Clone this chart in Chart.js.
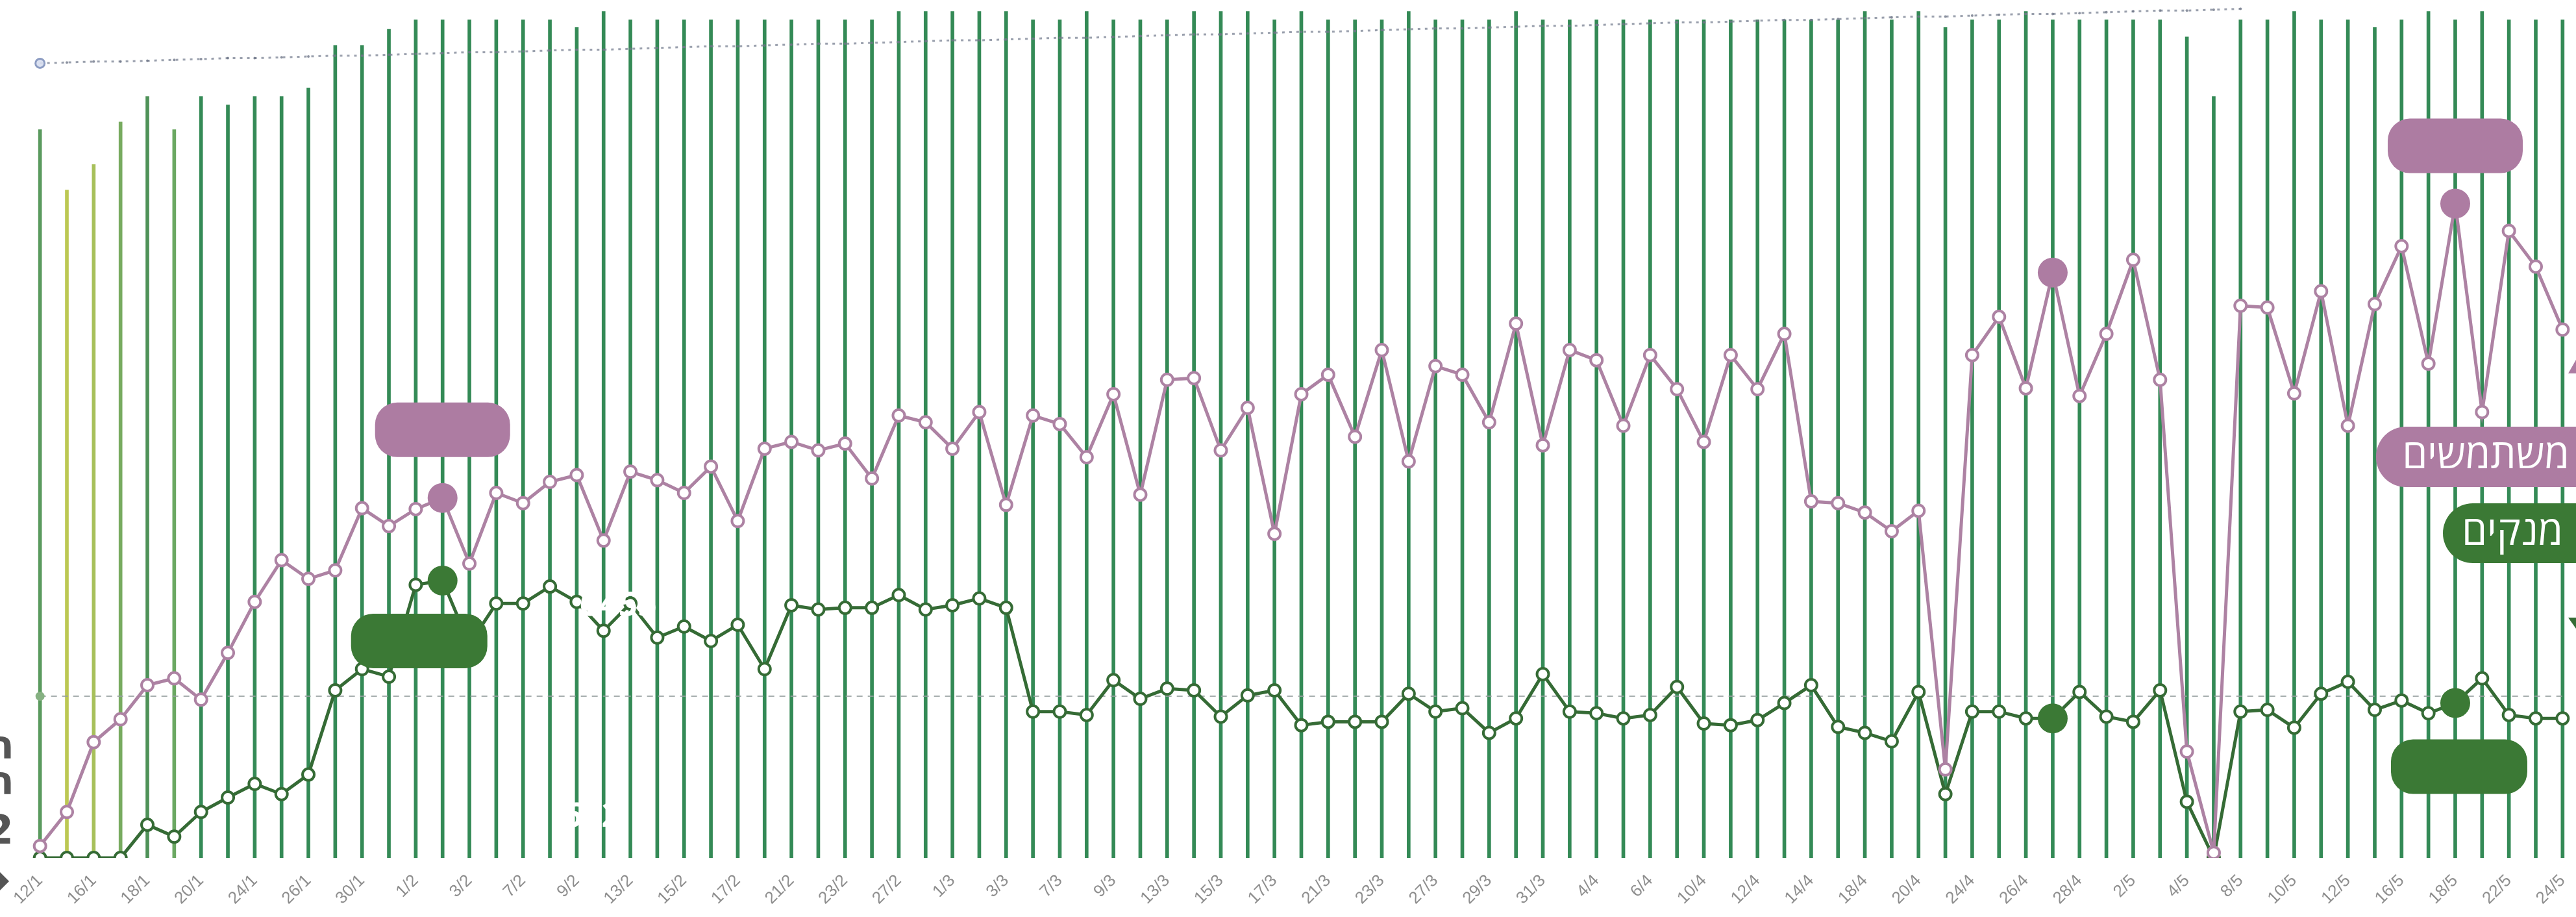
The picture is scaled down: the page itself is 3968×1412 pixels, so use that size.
<!DOCTYPE html>
<html>
<head>
<meta charset="utf-8">
<script src="https://cdn.jsdelivr.net/npm/chart.js@4.4.1/dist/chart.umd.min.js"></script>
<style>
html,body{margin:0;padding:0;background:#ffffff;overflow:hidden}
canvas{display:block}
</style>
</head>
<body>
<canvas id="c" width="3968" height="1412" style="width:3968px;height:1412px"></canvas>
<script>
// ---------- data ----------
const dates = ['12/1','13/1','16/1','17/1','18/1','19/1','20/1','23/1','24/1','25/1','26/1','27/1','30/1','31/1','1/2','2/2','3/2','6/2','7/2','8/2','9/2','10/2','13/2','14/2','15/2','16/2','17/2','20/2','21/2','22/2','23/2','24/2','27/2','28/2','1/3','2/3','3/3','6/3','7/3','8/3','9/3','10/3','13/3','14/3','15/3','16/3','17/3','20/3','21/3','22/3','23/3','24/3','27/3','28/3','29/3','30/3','31/3','3/4','4/4','5/4','6/4','7/4','10/4','11/4','12/4','13/4','14/4','17/4','18/4','19/4','20/4','21/4','24/4','25/4','26/4','27/4','28/4','1/5','2/5','3/5','4/5','5/5','8/5','9/5','10/5','11/5','12/5','15/5','16/5','17/5','18/5','19/5','22/5','23/5','24/5'];

const seriesNames = ['משתמשים', 'מנקים'];

const userValues = [14,54,136,163,203,211,186,241,301,350,
  328,338,411,390,410,423,346,429,417,442,
  450,373,454,444,429,460,396,481,489,479,
  487,446,520,512,481,524,415,520,510,471,
  545,427,562,564,479,529,381,545,568,495,
  597,466,578,568,512,628,485,597,585,508,
  591,551,489,591,551,616,419,417,406,384,
  408,104,591,636,552,688,543,616,703,562,
  125,6,649,647,546,666,508,651,719,581,
  769,524,737,695,621];

const cleanerValues = [0,0,0,0,39,25,54,71,87,75,
  98,197,222,213,321,326,251,299,299,319,
  301,267,299,259,272,255,274,222,297,292,
  294,294,309,292,297,305,294,172,172,168,
  209,187,199,197,166,191,197,156,160,160,
  160,193,172,176,147,164,216,172,170,164,
  168,201,158,156,162,182,203,154,147,137,
  195,75,172,172,164,164,195,166,160,197,
  66,0,172,174,153,193,207,174,185,170,
  182,211,168,164,164];

const barValues = [85.6,78.5,81.5,86.5,89.5,85.6,89.5,88.5,89.5,89.5,
  90.5,95.5,95.5,97.4,98.5,98.5,98.5,98.5,98.5,98.5,
  97.6,99.5,98.5,98.5,98.5,98.5,98.5,98.5,98.5,98.5,
  98.5,98.5,99.5,99.5,99.5,99.5,99.5,98.5,98.5,99.5,
  98.5,98.5,98.5,99.5,99.5,99.5,98.5,99.5,98.5,98.5,
  98.5,99.5,98.5,98.5,98.5,99.5,98.5,98.5,98.5,98.5,
  98.5,98.5,98.5,98.5,98.5,98.5,98.5,98.5,99.5,98.5,
  99.5,97.6,98.5,98.5,99.5,98.5,98.5,98.5,98.5,98.5,
  96.5,89.5,98.5,98.5,99.5,98.5,98.5,97.6,98.5,99.5,
  98.5,99.5,98.5,98.5,98.5];

const trendValues = [934,935,936,936,937,938,939,940,940,941,
  942,943,943,944,945,946,947,947,948,949,
  950,950,951,952,953,954,954,955,956,957,
  957,958,959,960,961,961,962,963,964,964,
  965,966,967,968,968,969,970,971,971,972,
  973,974,975,975,976,977,978,978,979,980,
  981,982,982,983,984,985,985,986,987,988,
  989,989,990,991,992,992,993,994,995,996,
  996,997,998,null,null,null,null,null,null,null,
  null,null,null,null,null];

const averageValues = [190,190,190,190,190,190,190,190,190,190,
  190,190,190,190,190,190,190,190,190,190,
  190,190,190,190,190,190,190,190,190,190,
  190,190,190,190,190,190,190,190,190,190,
  190,190,190,190,190,190,190,190,190,190,
  190,190,190,190,190,190,190,190,190,190,
  190,190,190,190,190,190,190,190,190,190,
  190,190,190,190,190,190,190,190,190,190,
  190,190,190,190,190,190,190,190,190,190,
  190,190,190,190,190];

const highlightedIdx = [15, 75, 90];

// ---------- styles ----------
const PINK = '#ad7ca2';
const PINK_LINE = '#ad82a3';
const GREEN = '#3b7935';
const GREEN_LINE = '#356b35';
const BAR_GREEN = '#348a56';
const earlyBarColors = ['#5a9a5e','#bcc853','#a7c05a','#78ab60','#4f9259','#6ba862'];

const tooltipBoxes = [
  {index: 15, pinkGap: 147, greenGap: 51, greenDx: -36},
  {index: 90, pinkGap: 131, greenGap: 56, greenDx: 6}
];

function roundRectPath(ctx, x, y, w, h, r) {
  ctx.beginPath();
  ctx.moveTo(x + r, y);
  ctx.lineTo(x + w - r, y);
  ctx.arcTo(x + w, y, x + w, y + r, r);
  ctx.lineTo(x + w, y + h - r);
  ctx.arcTo(x + w, y + h, x + w - r, y + h, r);
  ctx.lineTo(x + r, y + h);
  ctx.arcTo(x, y + h, x, y + h - r, r);
  ctx.lineTo(x, y + r);
  ctx.arcTo(x, y, x + r, y, r);
  ctx.closePath();
}

const overlay = {
  id: 'overlay',
  afterDatasetsDraw(chart) {
    const ctx = chart.ctx;
    const pinkMeta = chart.getDatasetMeta(1);
    const greenMeta = chart.getDatasetMeta(2);
    ctx.save();
    // tooltip boxes (text-less)
    tooltipBoxes.forEach(b => {
      const p = pinkMeta.data[b.index];
      const g = greenMeta.data[b.index];
      ctx.fillStyle = PINK;
      roundRectPath(ctx, p.x - 104, p.y - b.pinkGap, 208, 84, 34);
      ctx.fill();
      ctx.fillStyle = GREEN;
      roundRectPath(ctx, g.x + b.greenDx - 105, g.y + b.greenGap, 210, 84, 34);
      ctx.fill();
    });

    // white value texts
    ctx.fillStyle = '#ffffff';
    ctx.font = 'bold 52px "Open Sans", "DejaVu Sans", sans-serif';
    ctx.textAlign = 'left';
    ctx.textBaseline = 'alphabetic';
    ctx.fillText('6455', 893, 948);
    ctx.fillText('602', 867, 1273);

    // legend pills at right edge
    ctx.fillStyle = PINK;
    roundRectPath(ctx, 3660, 657, 420, 93, 46);
    ctx.fill();
    ctx.fillStyle = GREEN;
    roundRectPath(ctx, 3763, 775, 320, 92, 46);
    ctx.fill();
    ctx.fillStyle = '#ffffff';
    ctx.font = '400 62px "Open Sans", "DejaVu Sans", sans-serif';
    ctx.textAlign = 'right';
    ctx.textBaseline = 'middle';
    ctx.fillText(seriesNames[0], 3958, 703);
    ctx.fillText(seriesNames[1], 3948, 821);

    // caret triangles at right edge
    ctx.fillStyle = PINK;
    ctx.beginPath();
    ctx.moveTo(3956, 575); ctx.lineTo(3968, 575); ctx.lineTo(3968, 554); ctx.closePath();
    ctx.fill();
    ctx.fillStyle = GREEN_LINE;
    ctx.beginPath();
    ctx.moveTo(3956, 951); ctx.lineTo(3968, 951); ctx.lineTo(3968, 968); ctx.closePath();
    ctx.fill();

    // cropped text at left edge
    ctx.fillStyle = '#555555';
    ctx.font = 'bold 62px "DejaVu Sans", sans-serif';
    ctx.textAlign = 'right';
    ctx.textBaseline = 'alphabetic';
    ctx.fillText('ה', 22, 1168);
    ctx.fillText('ה', 22, 1223);
    ctx.fillText('2', 21, 1299);
    ctx.beginPath();
    ctx.moveTo(0, 1343); ctx.lineTo(14, 1357); ctx.lineTo(0, 1371); ctx.closePath();
    ctx.fill();
    ctx.restore();
  }
};

const isHi = (ctx) => highlightedIdx.includes(ctx.dataIndex);

new Chart(document.getElementById('c'), {
  data: {
    labels: dates,
    datasets: [
      {
        type: 'bar',
        label: 'bars',
        data: barValues,
        yAxisID: 'yBar',
        barThickness: 5,
        backgroundColor: (ctx) => earlyBarColors[ctx.dataIndex] || BAR_GREEN,
        borderWidth: 0,
        order: 5
      },
      {
        type: 'line',
        label: seriesNames[0],
        data: userValues,
        yAxisID: 'y',
        borderColor: PINK_LINE,
        borderWidth: 5,
        tension: 0,
        pointRadius: (ctx) => isHi(ctx) ? 23 : 9,
        pointBackgroundColor: (ctx) => isHi(ctx) ? PINK : '#ffffff',
        pointBorderColor: (ctx) => isHi(ctx) ? PINK : PINK_LINE,
        pointBorderWidth: (ctx) => isHi(ctx) ? 0 : 4,
        order: 1
      },
      {
        type: 'line',
        label: seriesNames[1],
        data: cleanerValues,
        yAxisID: 'y',
        borderColor: GREEN_LINE,
        borderWidth: 5,
        tension: 0,
        pointRadius: (ctx) => isHi(ctx) ? 23 : 9,
        pointBackgroundColor: (ctx) => isHi(ctx) ? GREEN : '#ffffff',
        pointBorderColor: (ctx) => isHi(ctx) ? GREEN : GREEN_LINE,
        pointBorderWidth: (ctx) => isHi(ctx) ? 0 : 4,
        order: 2
      },
      {
        type: 'line',
        label: 'trend',
        data: trendValues,
        yAxisID: 'y',
        borderColor: 'rgba(120,128,145,0.75)',
        borderWidth: 3,
        borderDash: [4, 7],
        pointRadius: (ctx) => ctx.dataIndex === 0 ? 7 : 2,
        pointBackgroundColor: (ctx) => ctx.dataIndex === 0 ? 'rgba(215,222,240,0.9)' : 'rgba(110,118,135,0.8)',
        pointBorderColor: (ctx) => ctx.dataIndex === 0 ? '#8c9cc2' : 'rgba(110,118,135,0.8)',
        pointBorderWidth: (ctx) => ctx.dataIndex === 0 ? 3 : 0,
        order: 3
      },
      {
        type: 'line',
        label: 'average',
        data: averageValues,
        yAxisID: 'y',
        borderColor: 'rgba(150,160,160,0.85)',
        borderWidth: 2,
        borderDash: [9, 8],
        pointRadius: (ctx) => ctx.dataIndex === 0 ? 7 : 0,
        pointBackgroundColor: '#86b182',
        pointBorderWidth: 0,
        order: 4
      }
    ]
  },
  options: {
    responsive: false,
    animation: false,
    devicePixelRatio: 1,
    events: [],
    layout: { autoPadding: false, padding: { left: 41, right: 0, top: 11, bottom: 0 } },
    plugins: { legend: { display: false }, tooltip: { enabled: false } },
    scales: {
      x: {
        type: 'category',
        offset: true,
        grid: { display: false, drawTicks: true, tickLength: 20 },
        border: { display: false },
        ticks: {
          autoSkip: false,
          minRotation: 45,
          maxRotation: 45,
          padding: 0,
          color: '#8e8e8e',
          font: { family: '"Liberation Sans", Arial, sans-serif', size: 26 },
          callback: (value, index) => index % 2 === 0 ? dates[index] : ''
        },
        afterFit: (scale) => { scale.height = 91; scale.paddingLeft = 0; scale.paddingRight = 0; }
      },
      y: { display: false, min: 0, max: 1000 },
      yBar: { display: false, min: 0, max: 100 }
    }
  },
  plugins: [overlay]
});
</script>
</body>
</html>
